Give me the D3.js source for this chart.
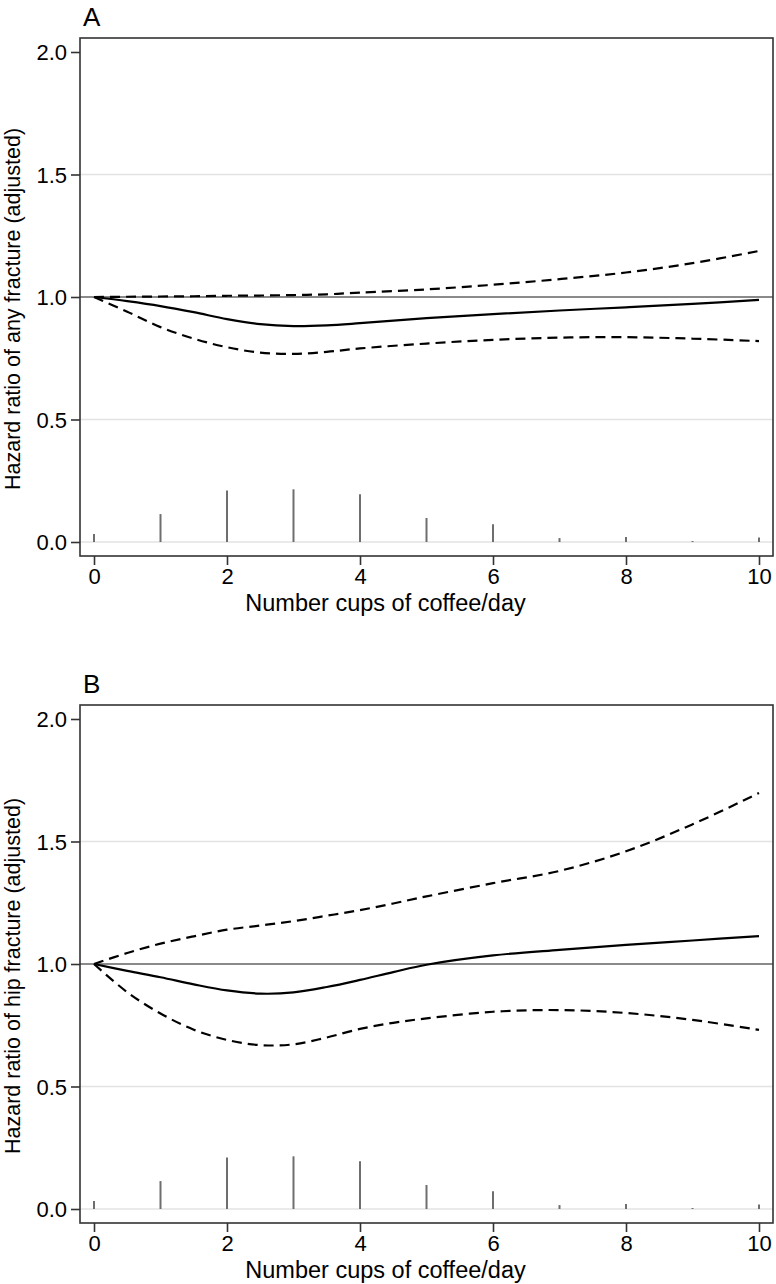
<!DOCTYPE html>
<html><head><meta charset="utf-8">
<script src="https://cdn.jsdelivr.net/npm/d3@7"></script>
<style>body{margin:0;background:#fff}svg{display:block}text{font-family:"Liberation Sans",Arial,sans-serif;fill:#000}</style>
</head><body>
<script>
const xTicks = [0,2,4,6,8,10];
const yTicks = [0.0,0.5,1.0,1.5,2.0];
const yTickLabels = ["0.0","0.5","1.0","1.5","2.0"];
const gridVals = [0.0,0.5,1.5];
const spikeX = [0,1,2,3,4,5,6,7,8,9,10];
const spikeH = [0.033,0.114,0.21,0.215,0.195,0.098,0.072,0.016,0.02,0.004,0.018];

const xA = [0,0.5,1,1.5,2,2.5,3,3.5,4,5,6,7,8,9,10];
const estA = [1.0,0.983,0.963,0.938,0.910,0.889,0.881,0.884,0.893,0.914,0.930,0.945,0.958,0.972,0.988];
const lowA = [1.0,0.94,0.877,0.830,0.795,0.773,0.768,0.776,0.790,0.810,0.825,0.834,0.836,0.830,0.820];
const upA  = [1.0,1.001,1.002,1.003,1.005,1.006,1.008,1.011,1.018,1.031,1.050,1.073,1.100,1.138,1.188];

const xB = [0,0.5,1,1.5,2,2.5,3,3.5,4,4.5,5,6,7,8,9,10];
const estB = [1.0,0.972,0.946,0.917,0.892,0.879,0.884,0.906,0.935,0.967,0.997,1.035,1.058,1.078,1.096,1.114];
const lowB = [1.0,0.885,0.798,0.732,0.690,0.669,0.672,0.700,0.735,0.760,0.778,0.805,0.812,0.800,0.772,0.731];
const upB  = [1.0,1.045,1.083,1.113,1.140,1.157,1.175,1.197,1.220,1.247,1.276,1.330,1.380,1.460,1.570,1.698];

const panels = [
  {letter:"A", ytitle:"Hazard ratio of any fracture (adjusted)", xs:xA, est:estA, low:lowA, up:upA, top:38},
  {letter:"B", ytitle:"Hazard ratio of hip fracture (adjusted)", xs:xB, est:estB, low:lowB, up:upB, top:705}
];

const W=776,H=1284;
const svg=d3.select("body").append("svg").attr("width",W).attr("height",H);

panels.forEach(p=>{
  const left=80,right=773,top=p.top,bottom=top+518;
  const x=d3.scaleLinear().domain([0,10]).range([94,759]);
  const y=d3.scaleLinear().domain([0,2]).range([top+504,top+14]);
  const g=svg.append("g");
  g.selectAll(".grid").data(gridVals).enter().append("line")
    .attr("x1",left).attr("x2",right).attr("y1",d=>y(d)).attr("y2",d=>y(d))
    .attr("stroke","#e3e3e3").attr("stroke-width",1.6);
  g.selectAll(".spk").data(spikeX).enter().append("line")
    .attr("x1",d=>x(d)).attr("x2",d=>x(d)).attr("y1",y(0)).attr("y2",(d,i)=>y(spikeH[i]))
    .attr("stroke","#6e6e6e").attr("stroke-width",2);
  g.append("line").attr("x1",left).attr("x2",right).attr("y1",y(1)).attr("y2",y(1))
    .attr("stroke","#8a8a8a").attr("stroke-width",2);
  const line=d3.line().x((d,i)=>x(p.xs[i])).y(d=>y(d)).curve(d3.curveCatmullRom.alpha(0.5));
  g.append("path").attr("d",line(p.up)).attr("fill","none").attr("stroke","#000").attr("stroke-width",2.2).attr("stroke-dasharray","10,6");
  g.append("path").attr("d",line(p.low)).attr("fill","none").attr("stroke","#000").attr("stroke-width",2.2).attr("stroke-dasharray","10,6");
  g.append("path").attr("d",line(p.est)).attr("fill","none").attr("stroke","#000").attr("stroke-width",2.2);
  g.append("rect").attr("x",left).attr("y",top).attr("width",right-left).attr("height",bottom-top)
    .attr("fill","none").attr("stroke","#333").attr("stroke-width",1.6);
  const ya=d3.axisLeft(y).tickValues(yTicks).tickFormat((d,i)=>yTickLabels[i]).tickSize(9).tickPadding(4);
  const yg=g.append("g").attr("transform",`translate(${left},0)`).call(ya);
  yg.select(".domain").remove();
  yg.selectAll(".tick line").attr("stroke","#333").attr("stroke-width",1.6);
  yg.selectAll(".tick text").attr("font-size",22).attr("dy","0.36em");
  const xa=d3.axisBottom(x).tickValues(xTicks).tickFormat(d3.format("d")).tickSize(9).tickPadding(3);
  const xg=g.append("g").attr("transform",`translate(0,${bottom})`).call(xa);
  xg.select(".domain").remove();
  xg.selectAll(".tick line").attr("stroke","#333").attr("stroke-width",1.6);
  xg.selectAll(".tick text").attr("font-size",22);
  g.append("text").attr("x",(left+right)/2-41).attr("y",bottom+55).attr("text-anchor","middle").attr("font-size",23.5).text("Number cups of coffee/day");
  g.append("text").attr("transform",`translate(20,${(top+bottom)/2+12}) rotate(-90)`).attr("text-anchor","middle").attr("font-size",21.5).text(p.ytitle);
  g.append("text").attr("x",83).attr("y",top-12).attr("font-size",26).text(p.letter);
});
</script>
</body></html>
